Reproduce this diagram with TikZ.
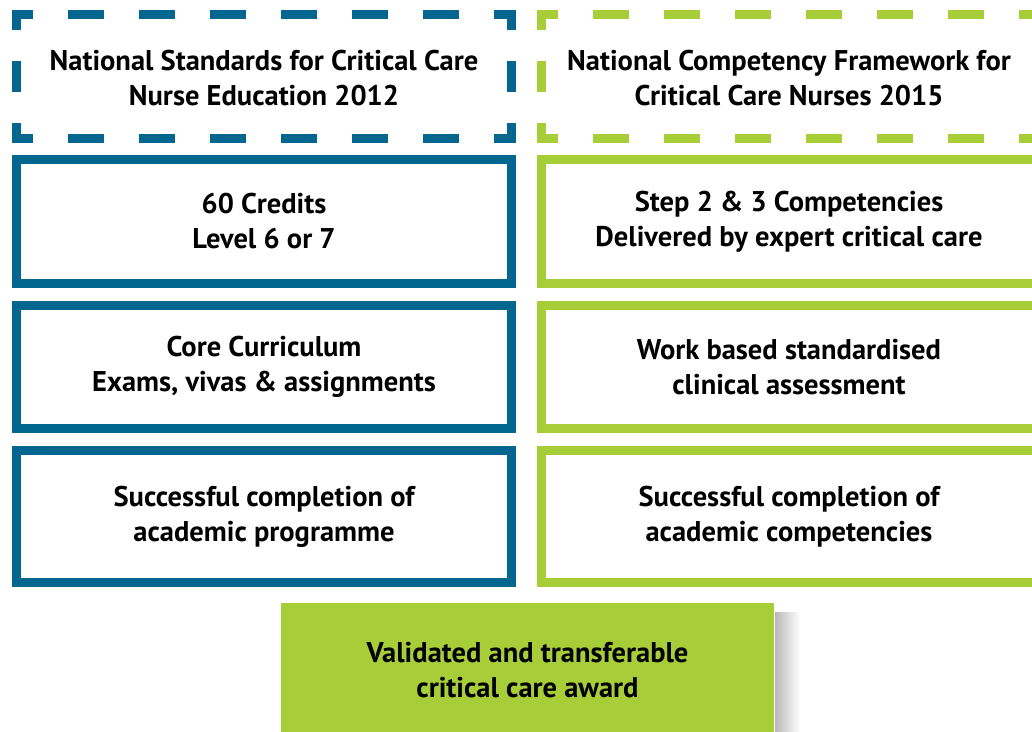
\documentclass[tikz,border=0pt]{standalone}
\usepackage{fontspec}
\setmainfont{PT Sans}
\usetikzlibrary{positioning,calc}
\definecolor{critblue}{HTML}{02668F}
\definecolor{critgreen}{HTML}{A7CE39}
\definecolor{shadowgray}{HTML}{B8B8B8}

\tikzset{
  boxtext/.style={align=center, font=\fontsize{28.5}{35}\selectfont\bfseries, text=black},
  hdash/.style={line width=9pt, dash pattern=on 36pt off 35pt, dash phase=15pt,
    shorten <=-4.5pt, shorten >=-4.5pt},
  vdash/.style={line width=9pt, dash pattern=on 31pt off 31pt, dash phase=15.5pt},
  stdbox/.style={boxtext, minimum width=495pt, inner sep=0pt, outer sep=0pt},
  solidbox/.style={stdbox, draw, line width=9pt}
}

\begin{document}
\begin{tikzpicture}[x=1pt,y=-1pt]
\useasboundingbox (0,0) rectangle (1032,731);
\clip (0,0) rectangle (1032,731);

% standards header (dashed frames)
\node[stdbox, minimum height=124pt] (nse) at (264,78) {National Standards for Critical Care\\Nurse Education 2012};
\node[stdbox, minimum height=124pt] (ncf) at (789,78) {National Competency Framework for\\Critical Care Nurses 2015};
\foreach \n/\c in {nse/critblue, ncf/critgreen} {
  \draw[hdash, \c] ([yshift=1.5pt]\n.north west) -- ([yshift=1.5pt]\n.north east);
  \draw[hdash, \c] ([yshift=1.5pt]\n.south west) -- ([yshift=1.5pt]\n.south east);
  \draw[vdash, \c] ([yshift=1.5pt]\n.north west) -- ([yshift=1.5pt]\n.south west);
  \draw[vdash, \c] ([yshift=1.5pt]\n.north east) -- ([yshift=1.5pt]\n.south east);
}

% left column
\node[solidbox, draw=critblue, minimum height=124pt] (credits) at (264,221.5) {60 Credits\\Level 6 or 7};
\node[solidbox, draw=critblue, minimum height=123pt] (core) at (264,367) {Core Curriculum\\Exams, vivas \& assignments};
\node[solidbox, draw=critblue, minimum height=132pt] (acadprog) at (264,516.5) {Successful completion of\\academic programme};

% right column
\node[solidbox, draw=critgreen, minimum height=124pt] (steps) at (789,221.5) {Step 2 \& 3 Competencies\\Delivered by expert critical care};
\node[solidbox, draw=critgreen, minimum height=123pt] (workbased) at (789,367) {Work based standardised\\clinical assessment};
\node[solidbox, draw=critgreen, minimum height=132pt] (acadcomp) at (789,516.5) {Successful completion of\\academic competencies};

% award
\fill[left color=shadowgray, right color=white] (775,612) rectangle (800,731);
\node[boxtext, fill=critgreen, minimum width=493pt, minimum height=134pt, inner sep=0pt] (award) at (527.5,670) {Validated and transferable\\critical care award};
\end{tikzpicture}
\end{document}
